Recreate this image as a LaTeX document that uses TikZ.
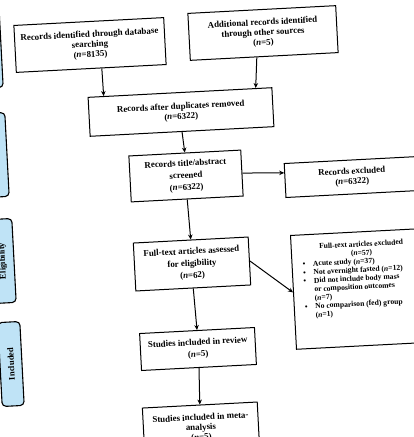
\documentclass[tikz,border=0pt]{standalone}
\usepackage{fontspec}
\setmainfont{Liberation Serif}
\usepackage{tikz}
\usetikzlibrary{arrows.meta,calc}
\definecolor{stagefill}{HTML}{BFE3F6}
\newcommand\exbul{\makebox[18pt]{\textbullet}}
\newcommand\exind{\hspace*{18pt}}

\begin{document}
\begin{tikzpicture}[x=1pt,y=-1pt,
  box/.style={draw,line width=1pt,rotate=3,align=center,inner sep=3pt,
    font=\fontsize{8.9}{10}\selectfont\bfseries},
  loose/.style={font=\fontsize{8.9}{12}\selectfont\bfseries},
  stage/.style={draw,line width=1.1pt,rounded corners=4pt,fill=stagefill,rotate=93,
    minimum width=84pt,minimum height=22pt,font=\fontsize{8.6}{10}\selectfont\bfseries},
  arr/.style={line width=1pt,-{Stealth[length=5pt,width=4.5pt]}}]
  \useasboundingbox (0,0) rectangle (413,437);
  \fill[white] (0,0) rectangle (413,437);
  % stage labels, cut by the left edge
  \node[stage] (sid) at (-10,46) {};
  \node[stage] (ssc) at (-4,155) {};
  \node[stage] (sel) at (3,261) {Eligibility};
  \node[stage] (sin) at (11,364) {Included};
  % identification
  \node[box,minimum width=150pt,minimum height=47pt] (ident) at (90,45)
    {Records identified through database\\searching\\(\textit{n}=8135)};
  \node[box,minimum width=148pt,minimum height=47pt] (other) at (263,33)
    {Additional records identified\\through other sources\\(\textit{n}=5)};
  \node[box,minimum width=184pt,minimum height=39pt] (dup) at (181,112)
    {Records after duplicates removed\\(\textit{n}=6322)};
  % screening
  \node[box,loose,minimum width=112pt,minimum height=46pt] (screen) at (186,176)
    {Records title/abstract\\screened\\(\textit{n}=6322)};
  \node[box,minimum width=134pt,minimum height=34pt] (excl) at (352,177)
    {Records excluded\\(\textit{n}=6322)};
  % eligibility
  \node[box,loose,minimum width=115pt,minimum height=48pt] (full) at (192,264)
    {Full-text articles assessed\\for eligibility\\(\textit{n}=62)};
  \node[box,inner xsep=3pt,inner ysep=9pt,anchor=north west,
    font=\fontsize{7.6}{8.5}\selectfont\bfseries] (fexcl) at (290,235)
    {\begin{tabular}{@{}p{134pt}@{}}
     \multicolumn{1}{@{}c@{}}{Full-text articles excluded}\\
     \multicolumn{1}{@{}c@{}}{(\textit{n}=57)}\\
     \exbul Acute study (\textit{n}=37)\\
     \exbul Not overnight fasted (\textit{n}=12)\\
     \exbul Did not include body mass\\
     \exind or composition outcomes\\
     \exind (\textit{n}=7)\\
     \exbul No comparison (fed) group\\
     \exind (\textit{n}=1)\rule[-22pt]{0pt}{0pt}
     \end{tabular}};
  % included
  \node[box,loose,minimum width=115pt,minimum height=37pt] (review) at (198,349)
    {Studies included in review\\(\textit{n}=5)};
  \node[box,minimum width=115pt,minimum height=46pt] (meta) at (201,428)
    {Studies included in meta-\\analysis\\(\textit{n}=5)};
  % arrows
  \draw[arr] ($(ident.south west)!0.57!(ident.south east)$) -- ($(dup.north west)!0.087!(dup.north east)$);
  \draw[arr] ($(other.south west)!0.45!(other.south east)$) -- ($(dup.north west)!0.91!(dup.north east)$);
  \draw[arr] (dup.south) -- (screen.north);
  \draw[arr] (screen.east) -- ($(excl.north west)!0.28!(excl.south west)$);
  \draw[arr] (screen.south) -- (full.north);
  \draw[arr] (full.east) -- (fexcl.west);
  \draw[arr] (full.south) -- (review.north);
  \draw[arr] (review.south) -- (meta.north);
\end{tikzpicture}
\end{document}
